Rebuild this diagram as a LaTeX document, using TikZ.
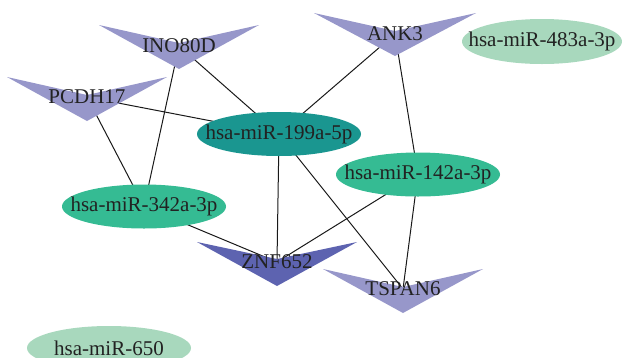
\documentclass[tikz,border=0pt]{standalone}
\usepackage{fontspec}
\setmainfont{Liberation Serif}
\usetikzlibrary{shapes.geometric}
\definecolor{tealdark}{HTML}{1A9690}
\definecolor{greenmid}{HTML}{35BB93}
\definecolor{greenlight}{HTML}{A8D8BD}
\definecolor{lavender}{HTML}{9797CA}
\definecolor{indigo}{HTML}{5D63B0}
\definecolor{txt}{HTML}{222222}
\pgfdeclarelayer{edgelayer}
\pgfdeclarelayer{shapelayer}
\pgfsetlayers{edgelayer,shapelayer,main}
\tikzset{
  lbl/.style={text=txt, font=\fontsize{21}{25}\selectfont, inner sep=0pt},
  mirbox/.style={ellipse, draw=none, minimum width=164pt, minimum height=44pt, inner sep=0pt},
  mirdark/.style={mirbox, fill=tealdark},
  mirmid/.style={mirbox, fill=greenmid},
  mirlight/.style={mirbox, fill=greenlight},
  link/.style={draw=black!90, line width=1pt},
  genetri/.style={fill=lavender},
  genedark/.style={fill=indigo}
}
\begin{document}
\begin{tikzpicture}[x=1pt,y=-1pt]
\useasboundingbox (0,0) rectangle (622,357);

% miRNA ellipses
\node[mirdark] (m199) at (279,134) {};
\node[lbl] at (m199) {hsa-miR-199a-5p};
\node[mirmid] (m142) at (418,174.5) {};
\node[lbl] at (m142) {hsa-miR-142a-3p};
\node[mirmid] (m342) at (144,206.5) {};
\node[lbl] at (m342) {hsa-miR-342a-3p};
\node[mirlight, minimum width=160pt, minimum height=45pt] (m483) at (542,41.5) {};
\node[lbl] at (m483) {hsa-miR-483a-3p};
\node[mirlight] (m650) at (109,348) {};
\node[lbl] at (m650) {hsa-miR-650};

% gene labels
\node[lbl] (ino) at (179,46) {INO80D};
\node[lbl] (pcdh) at (87,97) {PCDH17};
\node[lbl] (ank) at (395,34) {ANK3};
\node[lbl] (znf) at (277,262) {ZNF652};
\node[lbl] (tsp) at (403,289) {TSPAN6};

% gene triangles
\begin{pgfonlayer}{shapelayer}
\fill[genetri] (ino.center) ++(-80,-21) -- ++(80,18) -- ++(80,-18) -- ++(-80,44) -- cycle;
\fill[genetri] (pcdh.center) ++(-80,-20) -- ++(80,18) -- ++(80,-18) -- ++(-80,44) -- cycle;
\fill[genetri] (ank.center) ++(-81,-21) -- ++(81,18) -- ++(81,-18) -- ++(-81,43) -- cycle;
\fill[genedark] (znf.center) ++(-80,-20) -- ++(80,17) -- ++(80,-17) -- ++(-80,44) -- cycle;
\fill[genetri] (tsp.center) ++(-80,-20) -- ++(80,18) -- ++(80,-18) -- ++(-80,44) -- cycle;
\end{pgfonlayer}

% connectors
\begin{pgfonlayer}{edgelayer}
\draw[link] (ino.center) -- (m199.center);
\draw[link] (ino.center) -- (m342.center);
\draw[link] (pcdh.center) -- (m199.center);
\draw[link] (pcdh.center) -- (m342.center);
\draw[link] (ank.center) -- (m199.center);
\draw[link] (ank.center) -- (m142.center);
\draw[link] (m199.center) -- (znf.center);
\draw[link] (m199.center) -- (tsp.center);
\draw[link] (m142.center) -- (znf.center);
\draw[link] (m142.center) -- (tsp.center);
\draw[link] (m342.center) -- (znf.center);
\end{pgfonlayer}
\end{tikzpicture}
\end{document}
